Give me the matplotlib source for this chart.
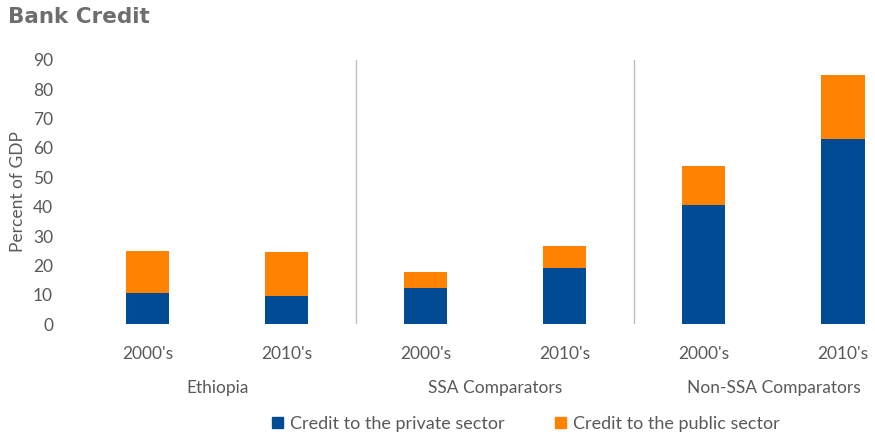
import matplotlib
matplotlib.use("Agg")
import matplotlib.pyplot as plt
from matplotlib.transforms import blended_transform_factory
from matplotlib.patches import Patch

groups = ["Ethiopia", "SSA Comparators", "Non-SSA Comparators"]
periods = ["2000's", "2010's", "2000's", "2010's", "2000's", "2010's"]
private = [10.5, 9.6, 12.4, 19.2, 40.4, 63.1]
public = [14.3, 15.1, 5.2, 7.5, 13.5, 21.9]
series_names = ["Credit to the private sector", "Credit to the public sector"]
yticks = [0, 10, 20, 30, 40, 50, 60, 70, 80, 90]

blue = "#004B94"
orange = "#FF8200"
grey = "#595959"
font = ["Lato", "DejaVu Sans"]
plt.rcParams["font.family"] = font

fig = plt.figure(figsize=(8.75, 4.36), dpi=100)
ax = fig.add_axes([78/875, (436-324)/436, 1 - 78/875, (324-60)/436])

x = list(range(len(periods)))
ax.bar(x, private, width=0.31, color=blue, zorder=2)
ax.bar(x, public, width=0.31, bottom=private, color=orange, zorder=2)

ax.set_xlim(-0.5, 5.23)
ax.set_ylim(0, 90)
ax.set_yticks(yticks)
ax.set_xticks(x)
ax.set_xticklabels(periods)
ax.tick_params(axis="both", length=0, labelsize=12.5, colors=grey)
ax.tick_params(axis="x", pad=16)
ax.tick_params(axis="y", pad=18)
for s in ax.spines.values():
    s.set_visible(False)

for xv in [1.5, 3.5]:
    ax.axvline(xv, ymin=0, ymax=1, color="#c0c0c0", lw=1, zorder=1)

ax.set_ylabel("Percent of GDP", fontsize=12.5, color=grey, labelpad=5)

trans = blended_transform_factory(ax.transData, ax.transAxes)
for i, g in enumerate(groups):
    ax.text(2*i + 0.5, -64/264, g, transform=trans, ha="center", va="center",
            fontsize=12.5, color=grey)

fig.text(8/875, 1 - 17/436, "Bank Credit", fontsize=15.5, fontweight="bold",
         family=["DejaVu Sans"], color="#6e6e6e", ha="left", va="center")

handles = [Patch(color=blue), Patch(color=orange)]
fig.legend(handles, series_names, loc="center", bbox_to_anchor=(526/875, 1 - 424/436),
           ncol=2, frameon=False, fontsize=13, handlelength=0.6, handleheight=0.6,
           columnspacing=2.8, handletextpad=0.4, labelcolor=grey)

fig.savefig("out.png", dpi=100)
